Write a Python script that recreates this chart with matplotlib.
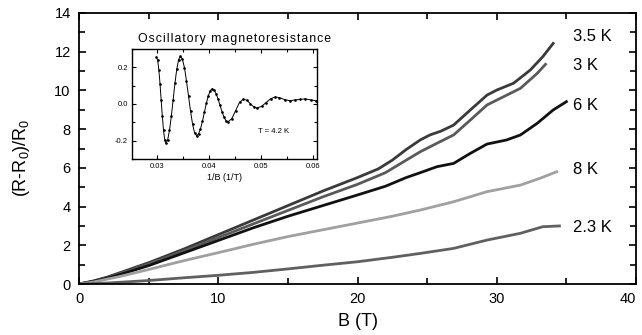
import matplotlib.pyplot as plt
from matplotlib.ticker import MultipleLocator

plt.rcParams['font.family'] = ['Liberation Sans', 'DejaVu Sans']
plt.rcParams['mathtext.fontset'] = 'custom'
plt.rcParams['mathtext.rm'] = 'Liberation Sans'

# main curves: field B (T) and (R-R0)/R0
b_35 = [0, 1, 2, 3, 5, 7.5, 10, 12.5, 15, 17.5, 20, 21.5, 22.5, 23.5, 24.5,
        25.2, 26.0, 26.9, 28.1, 29.3, 30.0, 31.2, 32.4, 33.3, 34.05]
r_35 = [0, 0.15, 0.35, 0.6, 1.1, 1.8, 2.55, 3.3, 4.05, 4.8, 5.5, 5.95, 6.4,
        6.95, 7.44, 7.7, 7.9, 8.21, 8.99, 9.76, 10.02, 10.37, 11.05, 11.74, 12.43]

b_3 = [0, 1, 2, 3, 5, 7.5, 10, 12.5, 15, 17.5, 20, 22, 23.5, 24.5, 25.7,
       26.9, 28.1, 29.3, 30.5, 31.7, 32.9, 33.5]
r_3 = [0, 0.14, 0.33, 0.55, 1.03, 1.7, 2.4, 3.1, 3.8, 4.5, 5.15, 5.75, 6.4,
       6.83, 7.27, 7.70, 8.47, 9.25, 9.68, 10.11, 10.88, 11.35]

b_6 = [0, 1, 2, 3, 5, 7.5, 10, 12.5, 15, 17.5, 20, 22, 23.5, 24.5, 25.7,
       26.9, 28.1, 29.3, 30.7, 31.7, 32.9, 34.05, 35.0]
r_6 = [0, 0.13, 0.3, 0.5, 0.95, 1.6, 2.25, 2.9, 3.5, 4.05, 4.6, 5.05, 5.5,
       5.75, 6.06, 6.23, 6.75, 7.23, 7.44, 7.70, 8.30, 8.99, 9.42]

b_8 = [0, 1, 2, 3, 5, 7.5, 10, 12.5, 15, 17.5, 20, 22.5, 24.5, 26.9, 29.3,
       31.7, 33.1, 34.3]
r_8 = [0, 0.1, 0.25, 0.4, 0.75, 1.2, 1.62, 2.05, 2.45, 2.8, 3.15, 3.5, 3.82,
       4.25, 4.77, 5.11, 5.46, 5.8]

b_23 = [0, 2, 5, 7.5, 10, 12.5, 15, 17.5, 20, 22.5, 24.5, 26.9, 29.3, 31.7,
        33.3, 34.5]
r_23 = [0, 0.05, 0.18, 0.32, 0.45, 0.6, 0.78, 0.97, 1.15, 1.38, 1.58, 1.84,
        2.27, 2.62, 2.96, 3.0]

labels = ['3.5 K', '3 K', '6 K', '8 K', '2.3 K']
label_y = [12.8, 11.28, 9.2, 5.9, 2.93]
x_ticks = [0, 10, 20, 30, 40]

# inset: 1/B (1/T) vs oscillatory part
inv_b = [0.0299, 0.03013, 0.03035, 0.03058, 0.0308, 0.03103, 0.03125, 0.03148,
         0.0317, 0.03205, 0.0324, 0.03275, 0.0331, 0.03345, 0.0338, 0.03415,
         0.0345, 0.03489, 0.03528, 0.03566, 0.03605, 0.03644, 0.03683, 0.03721,
         0.0376, 0.03798, 0.03835, 0.03873, 0.0391, 0.03948, 0.03985, 0.04023,
         0.0406, 0.04098, 0.04135, 0.04173, 0.0421, 0.04248, 0.04285, 0.04323,
         0.0436, 0.04435, 0.0451, 0.04585,
         0.0466, 0.04725, 0.0479, 0.04855, 0.0492, 0.05008, 0.05095, 0.05183,
         0.0527, 0.0535, 0.0545, 0.0555, 0.0565, 0.0575, 0.0585, 0.0595, 0.0606]
osc = [0.256, 0.238, 0.187, 0.111, 0.021, -0.068, -0.144, -0.195,
       -0.213, -0.195, -0.144, -0.067, 0.023, 0.114, 0.191, 0.242,
       0.26, 0.243, 0.197, 0.126, 0.043, -0.039, -0.110, -0.157,
       -0.173, -0.163, -0.135, -0.094, -0.045, 0.004, 0.045, 0.073,
       0.083, 0.076, 0.056, 0.027, -0.008, -0.042, -0.071, -0.091,
       -0.098, -0.080, -0.036, 0.009,
       0.027, 0.020, 0.002, -0.015, -0.022, -0.013, 0.008, 0.029,
       0.038, 0.035, 0.024, 0.018, 0.022, 0.025, 0.028, 0.022, 0.018]

fig = plt.figure(figsize=(6.42, 3.35), dpi=100)
ax = fig.add_axes([0.1231, 0.1522, 0.8676, 0.809])

ax.plot(b_35, r_35, color='#3a3a3a', lw=2.0)
ax.plot(b_3, r_3, color='#5a5a5a', lw=2.0)
ax.plot(b_6, r_6, color='#111111', lw=2.0)
ax.plot(b_8, r_8, color='#a0a0a0', lw=2.0)
ax.plot(b_23, r_23, color='#606060', lw=2.0)

for lab, yv in zip(labels, label_y):
    ax.text(35.5, yv, lab, fontsize=12, va='center', ha='left')

ax.set_xlim(0, 40)
ax.set_ylim(0, 14)
ax.set_xticks(x_ticks)
ax.set_xticklabels([str(v) for v in x_ticks])
ax.xaxis.set_minor_locator(MultipleLocator(5))
ax.yaxis.set_major_locator(MultipleLocator(2))
ax.yaxis.set_minor_locator(MultipleLocator(1))
ax.tick_params(which='both', direction='in', top=True, right=True,
               labelsize=10.5, width=1.2)
ax.tick_params(which='major', length=5, pad=6)
ax.tick_params(which='minor', length=4)
# keep the last x label inside the figure
ax.get_xticklabels()[-1].set_ha('right')
for sp in ax.spines.values():
    sp.set_linewidth(1.3)
ax.set_xlabel('B (T)', fontsize=13, labelpad=5)
fig.text(22 / 642, 1 - 158 / 335, r'(R-R$_0$)/R$_0$', rotation=90,
         fontsize=13, ha='center', va='center')

# inset
ins = fig.add_axes([0.2056, 0.5254, 0.288, 0.3284])
ins.plot(inv_b, osc, color='black', lw=0.7, marker='o', ms=0.9)
ins.set_xlim(0.0252, 0.0607)
ins.set_ylim(-0.3, 0.3)
ins.set_xticks([0.03, 0.04, 0.05, 0.06])
ins.set_xticklabels(['0.03', '0.04', '0.05', '0.06'])
ins.set_yticks([-0.2, 0.0, 0.2])
ins.set_yticklabels(['-0.2', '0.0', '0.2'])
ins.xaxis.set_minor_locator(MultipleLocator(0.005))
ins.yaxis.set_minor_locator(MultipleLocator(0.1))
ins.tick_params(which='both', direction='in', top=True, right=True,
                labelsize=5.5, width=0.8, pad=3)
ins.tick_params(which='major', length=3)
ins.tick_params(which='minor', length=2)
for sp in ins.spines.values():
    sp.set_linewidth(1.0)
ins.set_xlabel('1/B (1/T)', fontsize=6.5, labelpad=2)
title = '\u200a'.join('Oscillatory magnetoresistance')
ins.text(0.555, 1.04, title, transform=ins.transAxes, fontsize=8.8,
         ha='center', va='bottom')
ins.text(0.0494, -0.151, 'T = 4.2 K', fontsize=5.5, va='center')

fig.savefig('out.png', dpi=100)
